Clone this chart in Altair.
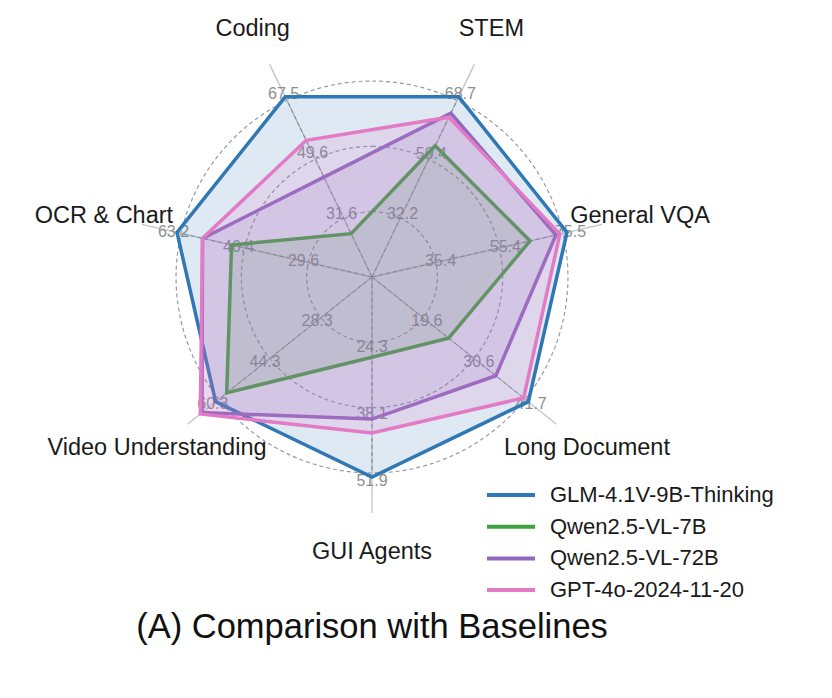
import altair as alt
import pandas as pd
import numpy as np

# ---------------- data ----------------
categories = ["STEM", "General VQA", "Long Document", "GUI Agents",
              "Video Understanding", "OCR & Chart", "Coding"]
tick_low = [32.2, 35.4, 19.6, 24.3, 28.3, 29.6, 31.6]
tick_mid = [50.4, 55.4, 30.6, 38.1, 44.3, 46.4, 49.6]
tick_high = [68.7, 75.5, 41.7, 51.9, 60.3, 63.2, 67.5]

models = ["GLM-4.1V-9B-Thinking", "Qwen2.5-VL-7B", "Qwen2.5-VL-72B", "GPT-4o-2024-11-20"]
glm = [68.7, 75.5, 41.7, 51.9, 60.3, 63.2, 67.5]
qwen7 = [53.8, 64.1, 24.8, 27.1, 56.9, 49.1, 26.6]
qwen72 = [63.7, 72.1, 34.8, 39.9, 64.5, 56.6, 43.5]
gpt4o = [62.5, 73.3, 40.7, 42.8, 65.0, 56.6, 54.5]
series = [glm, qwen7, qwen72, gpt4o]
colors = ["#2f78b4", "#3da13d", "#9168be", "#e27ac6"]

title_text = "(A) Comparison with Baselines"

# per-axis linear scale: low tick at 1/3, high tick at 1
lo = [(3 * a - c) / 2 for a, c in zip(tick_low, tick_high)]
hi = tick_high

rows = []
for m, vals in zip(models, series):
    for i, v in enumerate(vals):
        rows.append({"model": m, "idx": i, "value": v, "lo": lo[i], "hi": hi[i]})
df_models = pd.DataFrame(rows)

tick_rows = []
for i in range(len(categories)):
    for t in (tick_low[i], tick_mid[i], tick_high[i]):
        tick_rows.append({"idx": i, "value": t, "label": f"{t:.1f}", "lo": lo[i], "hi": hi[i]})
df_ticks = pd.DataFrame(tick_rows)

df_axes = pd.DataFrame({"idx": list(range(len(categories))), "cat": categories})

grid_levels = [1, 2, 3]
df_circles = pd.DataFrame([{"k": k, "t": t} for k in grid_levels for t in range(0, 361, 3)])

# ---------------- geometry ----------------
W, H = 800, 660
PX = 200.0  # pixels per unit radius
cx, cy = 364, 269
xdom = [-cx / PX, (W - cx) / PX]
ydom = [-(H - cy) / PX, cy / PX]
xs = alt.Scale(domain=xdom, nice=False, zero=False)
ys = alt.Scale(domain=ydom, nice=False, zero=False)

ANG = "(PI/7 + datum.idx*2*PI/7)"
FONT = "Liberation Sans"


def X(field="x"):
    return alt.X(f"{field}:Q", scale=xs, axis=None)


def Y(field="y"):
    return alt.Y(f"{field}:Q", scale=ys, axis=None)


# grid circles
circles = alt.Chart(df_circles).transform_calculate(
    rr="datum.k/3*0.98",
    x="datum.rr*sin(datum.t*PI/180)",
    y="datum.rr*cos(datum.t*PI/180)",
).mark_line(stroke="#9a9a9a", strokeWidth=1.2, strokeDash=[4, 3]).encode(
    x=X(), y=Y(), detail="k:N", order="t:Q"
)

# spokes: solid outer part and dashed inner part
spokes_outer = alt.Chart(df_axes).transform_calculate(
    x="0", y="0",
    x2=f"1.18*sin({ANG})", y2=f"1.18*cos({ANG})",
).mark_rule(stroke="#c4c4c4", strokeWidth=1.3).encode(
    x=X(), y=Y(), x2="x2:Q", y2="y2:Q"
)
spokes_inner = alt.Chart(df_axes).transform_calculate(
    x="0", y="0",
    x2=f"0.98*sin({ANG})", y2=f"0.98*cos({ANG})",
).mark_rule(stroke="#8a8a8a", strokeWidth=1.0, strokeDash=[4, 3]).encode(
    x=X(), y=Y(), x2="x2:Q", y2="y2:Q"
)

# tick labels
ticks = alt.Chart(df_ticks).transform_calculate(
    r="(datum.value - datum.lo)/(datum.hi - datum.lo) + 0.018",
    x=f"datum.r*sin({ANG})",
    y=f"datum.r*cos({ANG})",
).mark_text(font=FONT, fontSize=16, color="#8e8e8e", align="center", baseline="middle").encode(
    x=X(), y=Y(), text="label:N"
)

# axis names
axis_labels = alt.Chart(df_axes).transform_calculate(
    x=f"1.375*sin({ANG})",
    y=f"1.375*cos({ANG})",
).mark_text(font=FONT, fontSize=23.5, color="#1a1a1a", align="center", baseline="middle").encode(
    x=X(), y=Y(), text="cat:N"
)

# model polygons
layers = []
for m, col in zip(models, colors):
    layers.append(
        alt.Chart(df_models).transform_filter(alt.datum.model == m).transform_calculate(
            r="(datum.value - datum.lo)/(datum.hi - datum.lo)",
            x=f"datum.r*sin({ANG})",
            y=f"datum.r*cos({ANG})",
        ).mark_line(interpolate="linear-closed", strokeWidth=3.5, stroke=col, fill=col,
                    fillOpacity=0.16, strokeJoin="miter").encode(
            x=X(), y=Y(), order=alt.Order("idx:Q"),
        )
    )

# legend (drawn as marks)
LEG_X0, LEG_X1, LEG_TX, LEG_Y0, LEG_DY = 479, 527, 542, 487, 31.7
legend_layers = []
for i, (m, col) in enumerate(zip(models, colors)):
    dfl = pd.DataFrame({"model": [m]})
    yy = LEG_Y0 + i * LEG_DY
    legend_layers.append(
        alt.Chart(dfl).mark_rule(stroke=col, strokeWidth=4).encode(
            x=alt.value(LEG_X0), x2=alt.value(LEG_X1), y=alt.value(yy)
        )
    )
    legend_layers.append(
        alt.Chart(dfl).mark_text(font=FONT, fontSize=22, color="#1a1a1a",
                                 align="left", baseline="middle").encode(
            x=alt.value(LEG_TX), y=alt.value(yy), text="model:N"
        )
    )

title = alt.Chart(pd.DataFrame({"t": [title_text]})).mark_text(
    font=FONT, fontSize=34.5, color="#111111", align="center", baseline="middle"
).encode(x=alt.value(364), y=alt.value(620), text="t:N")

chart = alt.layer(circles, spokes_outer, spokes_inner, ticks, *layers, axis_labels,
                  *legend_layers, title).properties(
    width=W, height=H, padding=0, autosize=alt.AutoSizeParams(type="none")
).configure_view(stroke=None)

chart.save("out.html", embed_options={"renderer": "svg", "actions": False})
